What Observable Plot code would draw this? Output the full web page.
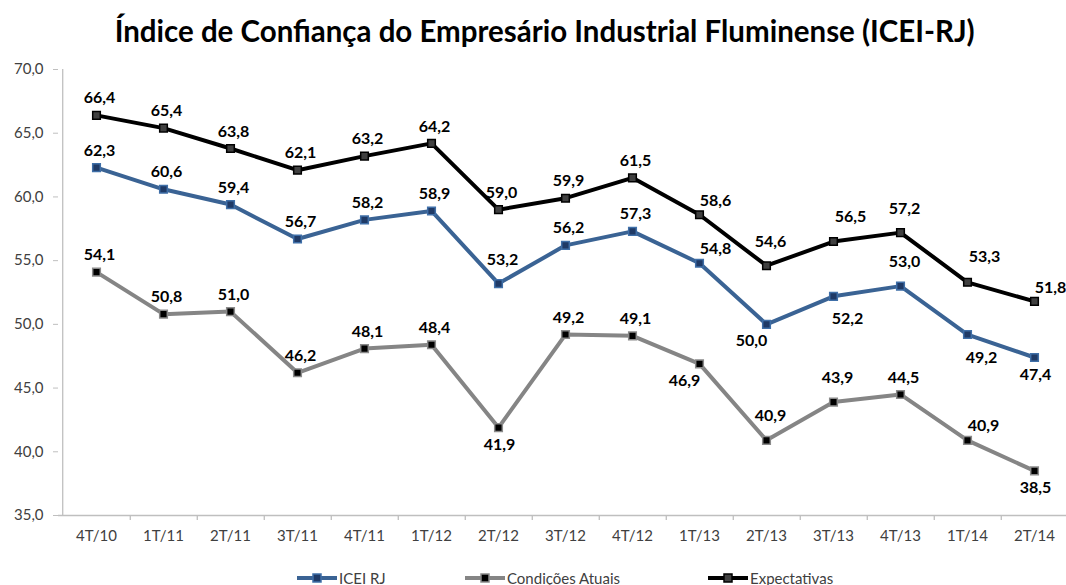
<!DOCTYPE html>
<html><head><meta charset="utf-8">
<script src="https://cdn.jsdelivr.net/npm/d3@7"></script>
<script src="https://cdn.jsdelivr.net/npm/@observablehq/plot@0.6"></script>
<style>
  body{margin:0;background:#fff;width:1066px;height:585px;overflow:hidden;position:relative;font-family:Lato,"Open Sans",sans-serif}
  #title{position:absolute;top:15px;left:12px;width:1066px;text-align:center;font-size:30px;line-height:30px;font-weight:700;color:#000;white-space:nowrap}
  #titleText{display:inline-block;transform-origin:50% 50%}
  #chart{position:absolute;top:62px;left:0}
  .leg{position:absolute;top:569px;display:flex;align-items:center;font-size:15px;color:#404040;white-space:nowrap}
  .leg svg{margin-right:2px}
</style>
</head><body>
<div id="title"><span id="titleText">Índice de Confiança do Empresário Industrial Fluminense (ICEI-RJ)</span></div>
<div id="chart"></div>
<div id="legend"></div>
<script>
const categories = ["4T/10","1T/11","2T/11","3T/11","4T/11","1T/12","2T/12","3T/12","4T/12","1T/13","2T/13","3T/13","4T/13","1T/14","2T/14"];
const iceiRJ = [62.3,60.6,59.4,56.7,58.2,58.9,53.2,56.2,57.3,54.8,50.0,52.2,53.0,49.2,47.4];
const condicoesAtuais = [54.1,50.8,51.0,46.2,48.1,48.4,41.9,49.2,49.1,46.9,40.9,43.9,44.5,40.9,38.5];
const expectativas = [66.4,65.4,63.8,62.1,63.2,64.2,59.0,59.9,61.5,58.6,54.6,56.5,57.2,53.3,51.8];
const yTicks = [35,40,45,50,55,60,65,70];
const seriesNames = ["ICEI RJ","Condições Atuais","Expectativas"];

// label placement codes (layout only)
const placeICEI = ["t","t","t","t","t","t","T","t","t","tr","bl","br","T","br","b"];
const placeCond = ["t","t","t","t","t","t","b","t","t","bl","T","T","t","tr","b"];
const placeExp  = ["t","t","t","t","t","t","t","t","t","tr","T","TR","T","TR","tr"];
const offsets = {t:[3,-17], T:[4,-24], tr:[16,-14], TR:[17,-25], b:[1,17], bl:[-15,17], br:[14,23]};

const styles = {
  "ICEI RJ": {line:"#3A6394", fill:"#1F3A66", stroke:"#3F6FA8"},
  "Condições Atuais": {line:"#858585", fill:"#000000", stroke:"#8A8A8A"},
  "Expectativas": {line:"#000000", fill:"#404040", stroke:"#000000"}
};

function build(name, values, place){
  return values.map((v,i)=>({series:name, cat:categories[i], value:v, pos:place[i]}));
}
const dIcei = build("ICEI RJ", iceiRJ, placeICEI);
const dCond = build("Condições Atuais", condicoesAtuais, placeCond);
const dExp = build("Expectativas", expectativas, placeExp);
const all = [...dCond, ...dIcei, ...dExp];

const fmt = v => v.toFixed(1).replace(".", ",");
const xRange = [92, 1038];
const step = (xRange[1]-xRange[0])/(categories.length-1);
const axisColor = "#BFBFBF";

const marks = [
  Plot.ruleY([35], {stroke: axisColor, strokeWidth: 1.3}),
  Plot.ruleX([categories[0]], {dx: -step/2, stroke: axisColor, strokeWidth: 1.3}),
  Plot.ruleX(categories, {x: d=>d, y1: 35, y2: 35, dx: step/2, insetBottom: -5, stroke: axisColor, strokeWidth: 1.3}),
  Plot.axisY({ticks: yTicks, tickFormat: fmt, tickSize: 5, tickPadding: 10, stroke: axisColor, fill: "#404040", fontSize: 15, label: null}),
  Plot.axisX({tickSize: 0, tickPadding: 15, fill: "#404040", fontSize: 15, label: null})
];
for (const [name, data] of [["Condições Atuais", dCond], ["ICEI RJ", dIcei], ["Expectativas", dExp]]) {
  const s = styles[name];
  marks.push(Plot.line(data, {x:"cat", y:"value", stroke: s.line, strokeWidth: 4, strokeLinejoin:"round"}));
  marks.push(Plot.dot(data, {x:"cat", y:"value", symbol:"square", r: 4.3, fill: s.fill, stroke: s.stroke, strokeWidth: 1.5}));
}
for (const code of Object.keys(offsets)) {
  const [dx, dy] = offsets[code];
  marks.push(Plot.text(all.filter(d=>d.pos===code), {x:"cat", y:"value", text: d=>fmt(d.value), dx, dy, fontSize: 16, fontWeight: "bold", fill: "#000"}));
}

const chart = Plot.plot({
  width: 1066, height: 490,
  marginLeft: 58, marginRight: 0, marginTop: 7, marginBottom: 37,
  style: {fontFamily: "Lato, 'Open Sans', sans-serif", fontSize: "15px", background: "transparent", overflow: "visible"},
  x: {type: "point", domain: categories, range: xRange, padding: 0, label: null},
  y: {domain: [35, 70], label: null},
  marks
});
document.getElementById("chart").append(chart);

// legend
const legLefts = [297, 465, 708];
const legend = document.getElementById("legend");
seriesNames.forEach((name, i) => {
  const s = styles[name];
  const div = document.createElement("div");
  div.className = "leg";
  div.style.left = legLefts[i] + "px";
  div.innerHTML = `<svg width="40" height="14"><line x1="0" x2="40" y1="7" y2="7" stroke="${s.line}" stroke-width="4"/><rect x="16" y="3" width="8" height="8" fill="${s.fill}" stroke="${s.stroke}" stroke-width="1.5"/></svg><span>${name}</span>`;
  legend.append(div);
});

// fit title width to reference
const tt = document.getElementById("titleText");
const w = tt.getBoundingClientRect().width;
tt.style.transform = `scaleX(${860 / w})`;
</script>
</body></html>
